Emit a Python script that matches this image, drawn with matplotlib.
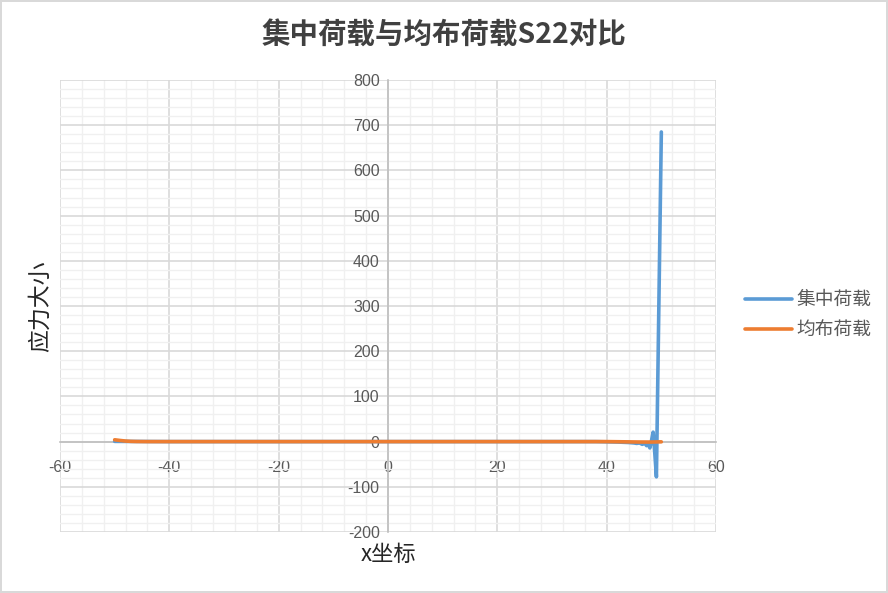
import matplotlib
matplotlib.use("Agg")
import matplotlib.pyplot as plt
from matplotlib.ticker import MultipleLocator

plt.rcParams["axes.unicode_minus"] = False

# ---- data ----
conc_x = [-50, -40, -30, -20, -10, 0, 10, 20, 30, 38, 40, 42, 43, 44, 45, 45.5, 46, 46.5,
          47, 47.3, 47.6, 47.9, 48.2, 48.5, 48.8, 49.1, 50]
conc_y = [0.5, 0, 0, 0, 0, 0, 0, 0, 0, 0, -0.5, -1, -1.5, -2, -3, -4, -3, -6,
          -4, -9, -5, -14, 2, 21, -25, -78, 685]

unif_x = [-50, -49, -48, -47, -46, -44, -40, -30, -20, -10, 0, 10, 20, 30, 40, 42, 44, 46, 48, 50]
unif_y = [4, 2.5, 1.2, 0.5, 0.2, 0, 0, 0, 0, 0, 0, 0, 0, 0, 0, -0.3, -0.6, -0.9, -1.0, -0.5]

series_names = ["集中荷载", "均布荷载"]
title = "集中荷载与均布荷载S22对比"
xlabel = "x坐标"
ylabel = "应力大小"

CJK = ["Noto Sans CJK SC", "DejaVu Sans"]
NUM = ["Liberation Sans", "DejaVu Sans"]

fig = plt.figure(figsize=(8.88, 5.93), dpi=100)
fig.patch.set_facecolor("white")
fig.patch.set_edgecolor("#d9d9d9")
fig.patch.set_linewidth(1.5)

W, H = 888, 593
L, R, T, B = 60, 716, 80, 532
ax = fig.add_axes([L / W, 1 - B / H, (R - L) / W, (B - T) / H])

ax.plot(conc_x, conc_y, color="#5B9BD5", lw=2.6, label=series_names[0], zorder=3,
        solid_joinstyle="round", solid_capstyle="round")
ax.plot(unif_x, unif_y, color="#ED7D31", lw=2.6, label=series_names[1], zorder=4,
        solid_joinstyle="round", solid_capstyle="round")

ax.set_xlim(-60, 60)
ax.set_ylim(-200, 800)
ax.xaxis.set_major_locator(MultipleLocator(20))
ax.xaxis.set_minor_locator(MultipleLocator(4))
ax.yaxis.set_major_locator(MultipleLocator(100))
ax.yaxis.set_minor_locator(MultipleLocator(20))

ax.grid(which="major", color="#d9d9d9", lw=1.2, zorder=0)
ax.grid(which="minor", color="#f0f0f0", lw=1.0, zorder=0)
ax.set_axisbelow(True)

for s in ["top", "right"]:
    ax.spines[s].set_visible(False)
ax.spines["left"].set_position(("data", 0))
ax.spines["bottom"].set_position(("data", 0))
for s in ["left", "bottom"]:
    ax.spines[s].set_color("#bfbfbf")
    ax.spines[s].set_linewidth(1.2)
    ax.spines[s].set_zorder(2)

ax.tick_params(which="both", length=0)
ax.tick_params(axis="x", pad=13, labelsize=11.5, labelcolor="#595959")
ax.tick_params(axis="y", pad=6, labelsize=11.5, labelcolor="#595959")
for lab in ax.get_xticklabels() + ax.get_yticklabels():
    lab.set_family(NUM)

fig.text(0.5, 1 - 36 / H, title, ha="center", va="center", fontsize=20.5,
         fontweight="bold", color="#404040", family=CJK)
fig.text(40 / W, 1 - 306 / H, ylabel, ha="center", va="center", rotation=90,
         fontsize=16.5, color="#262626", family=CJK)
fig.text(388 / W, 1 - 554 / H, xlabel, ha="center", va="center",
         fontsize=16, color="#262626", family=CJK)

leg = fig.legend(loc="center left", bbox_to_anchor=(728 / W, 1 - 315 / H),
                 frameon=False, prop={"family": CJK, "size": 13.5},
                 handlelength=2.5, handletextpad=0.25, labelspacing=0.5)
for t in leg.get_texts():
    t.set_color("#595959")

fig.savefig("out.png", dpi=100, facecolor=fig.get_facecolor(), edgecolor=fig.get_edgecolor())
